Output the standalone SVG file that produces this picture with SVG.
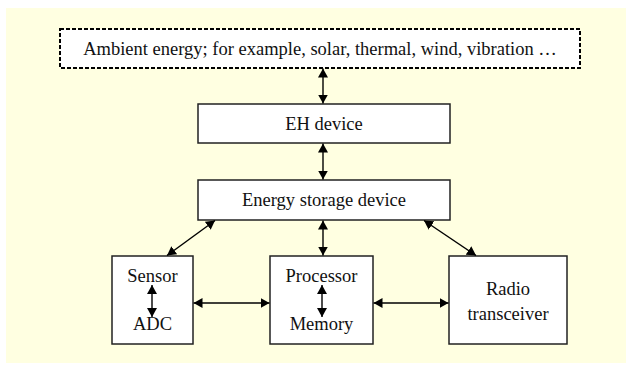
<svg xmlns="http://www.w3.org/2000/svg" width="632" height="365" viewBox="0 0 632 365">
<defs>
<marker id="ah" viewBox="0 0 10 10" refX="10" refY="5" markerWidth="9" markerHeight="10" markerUnits="userSpaceOnUse" orient="auto-start-reverse" preserveAspectRatio="none">
<path d="M0,0 L10,5 L0,10 z" fill="#000"/>
</marker>
<style>
.box{fill:#fff;stroke:#222;stroke-width:1.5}
.dash{fill:#fff;stroke:#000;stroke-width:2;stroke-dasharray:4,2}
.t{font-family:'Liberation Serif','Times New Roman',Times,'DejaVu Serif',serif;font-size:18.5px;fill:#111;text-anchor:middle}
.c line{stroke:#000;stroke-width:1.4;marker-start:url(#ah);marker-end:url(#ah)}
</style>
</defs>
<rect x="6" y="8" width="620" height="355" fill="#FFFFE1"/>
<g id="ambient">
<rect class="dash" x="60" y="29" width="520" height="39"/>
<text class="t" x="320" y="55">Ambient energy; for example, solar, thermal, wind, vibration …</text>
</g>
<g id="eh">
<rect class="box" x="198" y="104" width="252" height="39"/>
<text class="t" x="324" y="130">EH device</text>
</g>
<g id="storage">
<rect class="box" x="198" y="180" width="252" height="40"/>
<text class="t" x="324" y="206">Energy storage device</text>
</g>
<g id="sensor">
<rect class="box" x="112" y="256" width="81" height="88"/>
<text class="t" x="152.5" y="282">Sensor</text>
<text class="t" x="152.5" y="330">ADC</text>
</g>
<g id="processor">
<rect class="box" x="270" y="256" width="103" height="88"/>
<text class="t" x="321.5" y="282">Processor</text>
<text class="t" x="321.5" y="330">Memory</text>
</g>
<g id="radio">
<rect class="box" x="449" y="256" width="118" height="88"/>
<text class="t" x="508" y="295">Radio</text>
<text class="t" x="508" y="320">transceiver</text>
</g>
<g id="connectors" class="c">
<line x1="323" y1="68.5" x2="323" y2="103.5"/>
<line x1="323" y1="143.5" x2="323" y2="179.5"/>
<line x1="215" y1="220.5" x2="167" y2="255.5"/>
<line x1="323" y1="220.5" x2="323" y2="255.5"/>
<line x1="424" y1="220.5" x2="476" y2="255.5"/>
<line x1="152" y1="285" x2="152" y2="317"/>
<line x1="322" y1="285" x2="322" y2="317"/>
<line x1="193.5" y1="303" x2="269.5" y2="303"/>
<line x1="373.5" y1="303" x2="448.5" y2="303"/>
</g>
</svg>
